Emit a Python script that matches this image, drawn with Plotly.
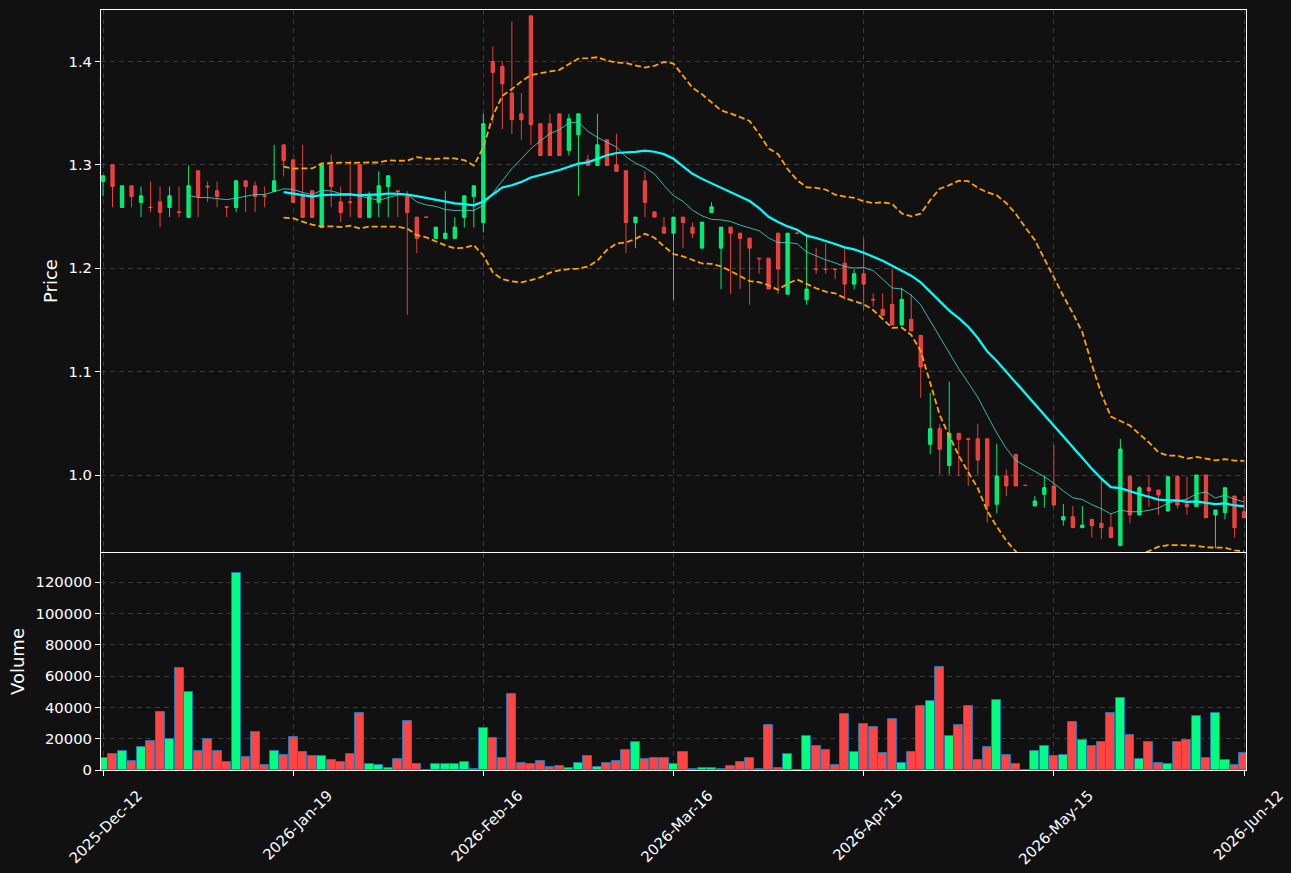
import plotly.graph_objects as go
import pandas as pd

# ---------------- data ----------------
opens = [1.2839, 1.3000, 1.2587, 1.2797, 1.2636, 1.2590, 1.2642, 1.2587, 1.2545, 1.2491,
         1.2942, 1.2794, 1.2749, 1.2594, 1.2587, 1.2845, 1.2797, 1.2700, 1.2742, 1.3193,
         1.3048, 1.2700, 1.2749, 1.2394, 1.3000, 1.2642, 1.2642, 1.3000, 1.2491, 1.2636,
         1.2790, 1.2749, 1.2700, 1.2494, 1.2496, 1.2288, 1.2288, 1.2288, 1.2491, 1.2694,
         1.2442, 1.3999, 1.3951, 1.3693, 1.3493, 1.4441, 1.3397, 1.3397, 1.3493, 1.3139,
         1.3290, 1.3048, 1.2994, 1.3242, 1.3000, 1.2942, 1.2442, 1.2845, 1.2545, 1.2397,
         1.2339, 1.2494, 1.2397, 1.2194, 1.2539, 1.2194, 1.2397, 1.2339, 1.2291, 1.2097,
         1.2097, 1.2339, 1.1749, 1.2341, 1.1694, 1.1993, 1.1993, 1.1993, 1.2049, 1.1846,
         1.1946, 1.1699, 1.1602, 1.1650, 1.1451, 1.1505, 1.1351, 1.0297, 1.0448, 1.0093,
         1.0403, 1.0351, 1.0351, 1.0351, 0.9716, 0.9990, 1.0200, 0.9902, 0.9700, 0.9813,
         0.9894, 0.9565, 0.9597, 0.9491, 0.9571, 0.9533, 0.9494, 0.9317, 0.9984, 0.9613,
         0.9877, 0.9855, 0.9652, 0.9984, 0.9720, 0.9694, 1.0000, 0.9613, 0.9636, 0.9797,
         0.9645]
highs = [1.2894, 1.3000, 1.2797, 1.2797, 1.2790, 1.2839, 1.2790, 1.2790, 1.2790, 1.2994,
         1.2942, 1.2839, 1.2839, 1.2594, 1.2845, 1.2845, 1.2839, 1.2790, 1.3193, 1.3193,
         1.3048, 1.3193, 1.2749, 1.3000, 1.3097, 1.2790, 1.3042, 1.3000, 1.2742, 1.2936,
         1.2894, 1.2749, 1.2745, 1.2494, 1.2496, 1.2397, 1.2745, 1.2494, 1.2700, 1.2797,
         1.3493, 1.4144, 1.3999, 1.4386, 1.3693, 1.4441, 1.3397, 1.3493, 1.3493, 1.3493,
         1.3493, 1.3097, 1.3493, 1.3242, 1.3300, 1.2942, 1.2494, 1.2936, 1.2545, 1.2494,
         1.2494, 1.2494, 1.2442, 1.2446, 1.2639, 1.2397, 1.2397, 1.2339, 1.2291, 1.2097,
         1.2097, 1.2339, 1.2339, 1.2341, 1.2333, 1.2194, 1.2242, 1.1993, 1.2194, 1.1991,
         1.2291, 1.1757, 1.1757, 1.1995, 1.1812, 1.1747, 1.1351, 1.0796, 1.0490, 1.0903,
         1.0403, 1.0351, 1.0496, 1.0351, 1.0303, 1.0055, 1.0200, 0.9902, 0.9797, 0.9997,
         1.0290, 0.9720, 0.9700, 0.9700, 0.9571, 0.9952, 0.9629, 1.0348, 1.0000, 0.9894,
         1.0000, 0.9855, 0.9984, 1.0000, 0.9984, 1.0000, 1.0000, 0.9662, 0.9877, 0.9797,
         0.9797]
lows = [1.2694, 1.2590, 1.2587, 1.2590, 1.2494, 1.2542, 1.2397, 1.2494, 1.2494, 1.2491,
        1.2494, 1.2639, 1.2590, 1.2494, 1.2542, 1.2542, 1.2542, 1.2590, 1.2742, 1.2887,
        1.2636, 1.2491, 1.2491, 1.2394, 1.2590, 1.2446, 1.2494, 1.2491, 1.2491, 1.2494,
        1.2494, 1.2494, 1.1549, 1.2146, 1.2492, 1.2288, 1.2288, 1.2288, 1.2394, 1.2394,
        1.2346, 1.3403, 1.3345, 1.3297, 1.3242, 1.3193, 1.3090, 1.3090, 1.3090, 1.3090,
        1.2700, 1.2994, 1.2994, 1.2994, 1.2936, 1.2146, 1.2194, 1.2494, 1.2494, 1.2339,
        1.1694, 1.2194, 1.2291, 1.2194, 1.2539, 1.1798, 1.1749, 1.1798, 1.1646, 1.1946,
        1.1798, 1.1749, 1.1749, 1.2337, 1.1646, 1.1946, 1.1946, 1.1894, 1.1694, 1.1798,
        1.1598, 1.1628, 1.1544, 1.1451, 1.1451, 1.1393, 1.0748, 1.0200, 1.0006, 1.0006,
        0.9990, 0.9894, 1.0006, 0.9539, 0.9629, 0.9797, 0.9894, 0.9898, 0.9700, 0.9684,
        0.9694, 0.9510, 0.9491, 0.9491, 0.9397, 0.9378, 0.9394, 0.9317, 0.9533, 0.9613,
        0.9694, 0.9613, 0.9652, 0.9678, 0.9613, 0.9694, 0.9587, 0.9291, 0.9571, 0.9394,
        0.9587]
closes = [1.2894, 1.2790, 1.2797, 1.2694, 1.2700, 1.2587, 1.2539, 1.2700, 1.2539, 1.2797,
          1.2694, 1.2787, 1.2694, 1.2590, 1.2845, 1.2790, 1.2694, 1.2694, 1.2845, 1.3042,
          1.2636, 1.2491, 1.2491, 1.3000, 1.2790, 1.2539, 1.2636, 1.2491, 1.2700, 1.2797,
          1.2894, 1.2742, 1.2539, 1.2288, 1.2492, 1.2397, 1.2339, 1.2397, 1.2700, 1.2797,
          1.3397, 1.3893, 1.3783, 1.3435, 1.3435, 1.3387, 1.3090, 1.3090, 1.3090, 1.3445,
          1.3493, 1.2994, 1.3193, 1.2994, 1.2936, 1.2442, 1.2494, 1.2636, 1.2494, 1.2339,
          1.2494, 1.2442, 1.2339, 1.2446, 1.2594, 1.2397, 1.2339, 1.2288, 1.2194, 1.2091,
          1.1798, 1.1991, 1.2339, 1.2337, 1.1798, 1.1988, 1.1988, 1.1988, 1.1846, 1.1946,
          1.1846, 1.1693, 1.1544, 1.1451, 1.1699, 1.1393, 1.1044, 1.0448, 1.0248, 1.0403,
          1.0345, 1.0345, 1.0145, 0.9700, 0.9990, 0.9894, 0.9894, 0.9898, 0.9749, 0.9878,
          0.9710, 0.9597, 0.9491, 0.9516, 0.9510, 0.9491, 0.9394, 1.0251, 0.9613, 0.9877,
          0.9845, 0.9807, 0.9984, 0.9710, 0.9694, 1.0000, 0.9587, 0.9662, 0.9877, 0.9491,
          0.9587]
volumes = [7500, 10000, 11900, 5500, 14900, 18300, 36800, 19600, 64900, 49600,
           11900, 19600, 12300, 4900, 125500, 8100, 24100, 3000, 12300, 9400,
           20900, 11300, 8700, 8700, 6200, 4900, 10000, 36200, 3600, 3000,
           1100, 6800, 31100, 3600, 0, 3600, 3600, 3600, 4900, 500,
           26600, 20200, 7500, 48300, 4300, 3600, 5500, 1700, 2400, 1100,
           4300, 8700, 1700, 4300, 5500, 12900, 17700, 6800, 7500, 7500,
           3600, 11300, 500, 1100, 1100, 500, 2400, 4900, 7500, 500,
           28900, 1100, 10000, 0, 21900, 15500, 12900, 3000, 35500, 11300,
           29600, 27600, 10600, 32300, 4300, 11300, 40600, 43800, 65500, 21900,
           28900, 40600, 6200, 14500, 44500, 9400, 3600, 0, 12300, 15100,
           8700, 9400, 30400, 18900, 15100, 17700, 36200, 45700, 22100, 6800,
           17700, 4300, 3600, 17700, 18900, 34200, 7500, 36200, 6200, 3000,
           10600]
tick_pos = [0, 20, 40, 60, 80, 100, 120]
tick_labels = ["2025-Dec-12", "2026-Jan-19", "2026-Feb-16", "2026-Mar-16",
               "2026-Apr-15", "2026-May-15", "2026-Jun-12"]

# ---------------- derived indicators ----------------
idx = list(range(len(closes)))
s = pd.Series(closes)
ma10 = s.rolling(10).mean()
ma20 = s.rolling(20).mean()
sd20 = s.rolling(20).std()
bb_up = ma20 + 2 * sd20
bb_lo = ma20 - 2 * sd20

UP = "#00FF7F"
DN = "#FF4444"
vol_colors = [UP if c >= o else DN for o, c in zip(opens, closes)]

fig = go.Figure()
fig.add_trace(go.Candlestick(
    x=idx, open=opens, high=highs, low=lows, close=closes,
    increasing=dict(line=dict(color="rgba(0,255,127,0.9)", width=1),
                    fillcolor="rgba(0,255,127,0.9)"),
    decreasing=dict(line=dict(color="rgba(255,68,68,0.9)", width=1),
                    fillcolor="rgba(255,68,68,0.9)"),
    whiskerwidth=0, xaxis="x", yaxis="y", name="Price"))
fig.add_trace(go.Scatter(x=idx, y=bb_up, mode="lines",
                         line=dict(color="#FFA500", width=1.8, dash="6px,3px"),
                         xaxis="x", yaxis="y", name="BB upper"))
fig.add_trace(go.Scatter(x=idx, y=bb_lo, mode="lines",
                         line=dict(color="#FFA500", width=1.8, dash="6px,3px"),
                         xaxis="x", yaxis="y", name="BB lower"))
fig.add_trace(go.Scatter(x=idx, y=ma10, mode="lines",
                         line=dict(color="rgba(64,224,208,0.8)", width=1),
                         xaxis="x", yaxis="y", name="MA10"))
fig.add_trace(go.Scatter(x=idx, y=ma20, mode="lines",
                         line=dict(color="#00FFFF", width=2.2),
                         xaxis="x", yaxis="y", name="MA20"))
fig.add_trace(go.Bar(x=idx, y=volumes, width=0.95,
                     marker=dict(color=vol_colors, line=dict(color="#1f77b4", width=1)),
                     xaxis="x2", yaxis="y2", name="Volume"))

GRID = "#3a3a3a"
common_x = dict(range=[-0.21, 120.21], tickmode="array", tickvals=tick_pos,
                showgrid=True, gridcolor=GRID, griddash="5px,4px", gridwidth=1,
                showline=True, mirror=True, linecolor="white", linewidth=1,
                zeroline=False, automargin=False)
fig.update_layout(
    width=1291, height=873,
    margin=dict(l=101, r=45, t=10, b=103),
    paper_bgcolor="#111111", plot_bgcolor="#111111",
    showlegend=False, boxgap=0.5, bargap=0,
    font=dict(family="DejaVu Sans", size=14.8, color="white"),
    xaxis=dict(**common_x, domain=[0, 1], anchor="y", showticklabels=False,
               ticks="", rangeslider=dict(visible=False)),
    xaxis2=dict(**common_x, domain=[0, 1], anchor="y2", matches="x",
                ticktext=tick_labels, tickangle=-45, ticks="outside",
                ticklen=5, tickcolor="white",
                ticklabelshift=35, ticklabelstandoff=5),
    yaxis=dict(domain=[0.2868, 1], range=[0.9255, 1.4497],
               tickvals=[1.0, 1.1, 1.2, 1.3, 1.4], tickformat=".1f",
               showgrid=True, gridcolor=GRID, griddash="5px,4px",
               showline=True, mirror=True, linecolor="white", linewidth=1,
               ticks="outside", ticklen=5, tickcolor="white", zeroline=False,
               automargin=False, title=dict(text="Price", standoff=6)),
    yaxis2=dict(domain=[0, 0.2855], range=[0, 138500], dtick=20000, tick0=0,
                tickformat="d",
                showgrid=True, gridcolor=GRID, griddash="5px,4px",
                showline=True, mirror=True, linecolor="white", linewidth=1,
                ticks="outside", ticklen=5, tickcolor="white", zeroline=False,
                automargin=False, title=dict(text="Volume", standoff=6)),
)

fig.write_html("out.html")
